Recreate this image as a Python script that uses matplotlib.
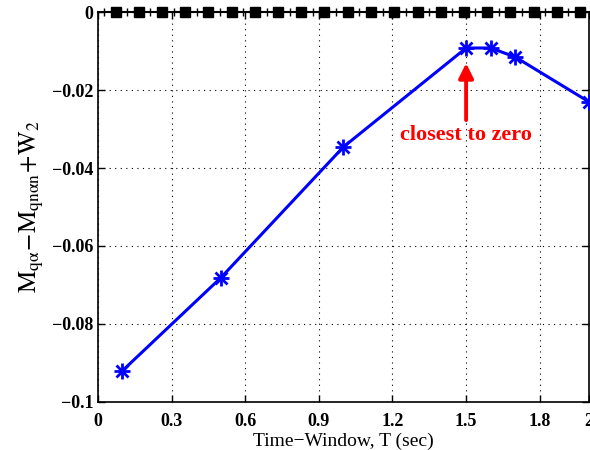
import matplotlib.pyplot as plt
import numpy as np

plt.rcParams['font.family'] = ['Liberation Serif', 'DejaVu Serif']
plt.rcParams['mathtext.fontset'] = 'stix'

# blue series
t_win = [0.1, 0.5, 1.0, 1.5, 1.6, 1.7, 2.0]
m_diff = [-0.092, -0.0682, -0.0346, -0.0092, -0.0092, -0.0115, -0.023]

# zero reference line (black squares with small ticks between)
ref_sq_x = [0.072, 0.167, 0.261, 0.356, 0.450, 0.545, 0.640, 0.734, 0.829, 0.923,
            1.018, 1.113, 1.207, 1.302, 1.396, 1.491, 1.586, 1.680, 1.775, 1.869, 1.964]
ref_tick_x = [0.025, 0.120, 0.214, 0.309, 0.403, 0.498, 0.592, 0.687, 0.781, 0.876,
              0.970, 1.065, 1.160, 1.254, 1.349, 1.443, 1.538, 1.633, 1.727, 1.822, 1.916]

xticks = [0, 0.3, 0.6, 0.9, 1.2, 1.5, 1.8, 2.0]
xtick_labels = ['0', '0.3', '0.6', '0.9', '1.2', '1.5', '1.8', '2']
yticks = [-0.1, -0.08, -0.06, -0.04, -0.02, 0]
ytick_labels = ['\u22120.1', '\u22120.08', '\u22120.06', '\u22120.04', '\u22120.02', '0']

fig = plt.figure(figsize=(5.9, 4.5), dpi=100)
ax = fig.add_axes([0.166, 0.107, 0.832, 0.866])

ax.plot([0, 2], [0, 0], color='black', lw=1.5, clip_on=False, zorder=3)
ax.plot(ref_sq_x, np.zeros(len(ref_sq_x)), 's', color='black', ms=7, clip_on=False, zorder=4)
ax.plot(ref_tick_x, np.zeros(len(ref_tick_x)), '|', color='black', ms=6, mew=1, clip_on=False, zorder=4)

ax.plot(t_win, m_diff, '-', color='blue', lw=2.2, zorder=5)
ax.plot(t_win, m_diff, '+', color='blue', ms=12, mew=2, zorder=6)
ax.plot(t_win, m_diff, 'x', color='blue', ms=9, mew=2, zorder=6)

ax.annotate('', xy=(1.5, -0.0131), xytext=(1.5, -0.0277),
            arrowprops=dict(arrowstyle='-|>', color='red', lw=2.8, mutation_scale=22,
                            shrinkA=0, shrinkB=0))
ax.text(1.5, -0.0315, 'closest to zero', ha='center', va='center', color='red',
        fontsize=16, fontweight='bold')

ax.set_xlim(0, 2)
ax.set_ylim(-0.1, 0)
ax.set_xticks(xticks)
ax.set_xticklabels(xtick_labels, fontweight='bold', fontsize=13)
ax.set_yticks(yticks)
ax.set_yticklabels(ytick_labels, fontweight='bold', fontsize=13)
ax.tick_params(direction='in', top=True, right=True, length=5, width=1)
ax.tick_params(axis='x', pad=8)
ax.grid(True, linestyle=(0, (1, 4)), color='black', lw=0.8)
for s in ax.spines.values():
    s.set_linewidth(1.2)

ax.set_xlabel('Time\u2212Window, T (sec)', fontsize=14, labelpad=2)
ax.set_ylabel(r'$\mathrm{M}_{\mathrm{q\alpha}}\!-\!\mathrm{M}_{\mathrm{qn\alpha n}}\!+\!\mathrm{W}_2$',
              fontsize=18, labelpad=4)

fig.savefig('out.png', dpi=100)
